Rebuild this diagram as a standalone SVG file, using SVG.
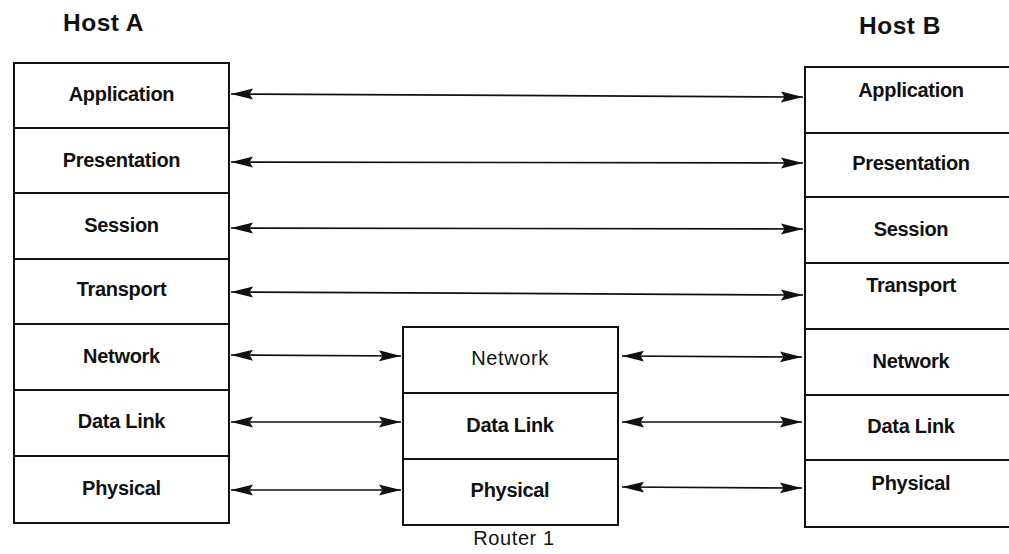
<svg xmlns="http://www.w3.org/2000/svg" width="1009" height="554" viewBox="0 0 1009 554">
<style>
.box{fill:#fff;stroke:#111;stroke-width:2}
.div{stroke:#111;stroke-width:2}
.lbl{font-family:"Liberation Sans",Arial,Helvetica,sans-serif;font-size:20px;font-weight:bold;fill:#111;text-anchor:middle;letter-spacing:-0.3px}
.reg{font-weight:normal;letter-spacing:0.6px}
.title{font-family:"Liberation Sans",Arial,Helvetica,sans-serif;font-size:24.5px;font-weight:bold;fill:#111;letter-spacing:0.5px}
.arr{stroke:#111;stroke-width:1.7;fill:none;marker-start:url(#ah);marker-end:url(#ah)}
</style>
<defs>
<marker id="ah" markerUnits="userSpaceOnUse" viewBox="0 0 22 12" refX="22" refY="6" markerWidth="22" markerHeight="12" orient="auto-start-reverse">
<path d="M0,0.5 L22,6 L0,11.5 L3.5,6 Z" fill="#111"/>
</marker>
</defs>
<rect width="1009" height="554" fill="#fff"/>
<text class="title" x="63" y="31">Host A</text>
<text class="title" x="859" y="34">Host B</text>
<g id="hostA">
<rect class="box" x="14" y="63" width="215" height="460"/>
<line class="div" x1="14" y1="128" x2="229" y2="128"/>
<line class="div" x1="14" y1="193" x2="229" y2="193"/>
<line class="div" x1="14" y1="259" x2="229" y2="259"/>
<line class="div" x1="14" y1="324" x2="229" y2="324"/>
<line class="div" x1="14" y1="390" x2="229" y2="390"/>
<line class="div" x1="14" y1="456" x2="229" y2="456"/>
<text class="lbl" x="121.5" y="101">Application</text>
<text class="lbl" x="121.5" y="167">Presentation</text>
<text class="lbl" x="121.5" y="232">Session</text>
<text class="lbl" x="121.5" y="296">Transport</text>
<text class="lbl" x="121.5" y="363">Network</text>
<text class="lbl" x="121.5" y="428">Data Link</text>
<text class="lbl" x="121.5" y="495">Physical</text>
</g>
<g id="router1">
<rect class="box" x="403" y="327" width="215" height="198"/>
<line class="div" x1="403" y1="393" x2="618" y2="393"/>
<line class="div" x1="403" y1="459" x2="618" y2="459"/>
<text class="lbl reg" x="510" y="365">Network</text>
<text class="lbl" x="510" y="432">Data Link</text>
<text class="lbl" x="510" y="497">Physical</text>
<text class="lbl reg" x="514" y="545">Router 1</text>
</g>
<g id="hostB">
<rect class="box" x="805" y="67" width="215" height="460"/>
<line class="div" x1="805" y1="133" x2="1020" y2="133"/>
<line class="div" x1="805" y1="197" x2="1020" y2="197"/>
<line class="div" x1="805" y1="263" x2="1020" y2="263"/>
<line class="div" x1="805" y1="329" x2="1020" y2="329"/>
<line class="div" x1="805" y1="395" x2="1020" y2="395"/>
<line class="div" x1="805" y1="460" x2="1020" y2="460"/>
<text class="lbl" x="911" y="97">Application</text>
<text class="lbl" x="911" y="170">Presentation</text>
<text class="lbl" x="911" y="236">Session</text>
<text class="lbl" x="911" y="292">Transport</text>
<text class="lbl" x="911" y="368">Network</text>
<text class="lbl" x="911" y="433">Data Link</text>
<text class="lbl" x="911" y="490">Physical</text>
</g>
<g id="connectors">
<line class="arr" x1="231" y1="94" x2="803" y2="97"/>
<line class="arr" x1="231" y1="162" x2="803" y2="163"/>
<line class="arr" x1="231" y1="228" x2="803" y2="229"/>
<line class="arr" x1="231" y1="292" x2="803" y2="295"/>
<line class="arr" x1="231" y1="355" x2="401" y2="356"/>
<line class="arr" x1="231" y1="422" x2="401" y2="422"/>
<line class="arr" x1="231" y1="490" x2="401" y2="490"/>
<line class="arr" x1="622" y1="356" x2="802" y2="357"/>
<line class="arr" x1="622" y1="422" x2="802" y2="422"/>
<line class="arr" x1="622" y1="487" x2="802" y2="488"/>
</g>
</svg>
